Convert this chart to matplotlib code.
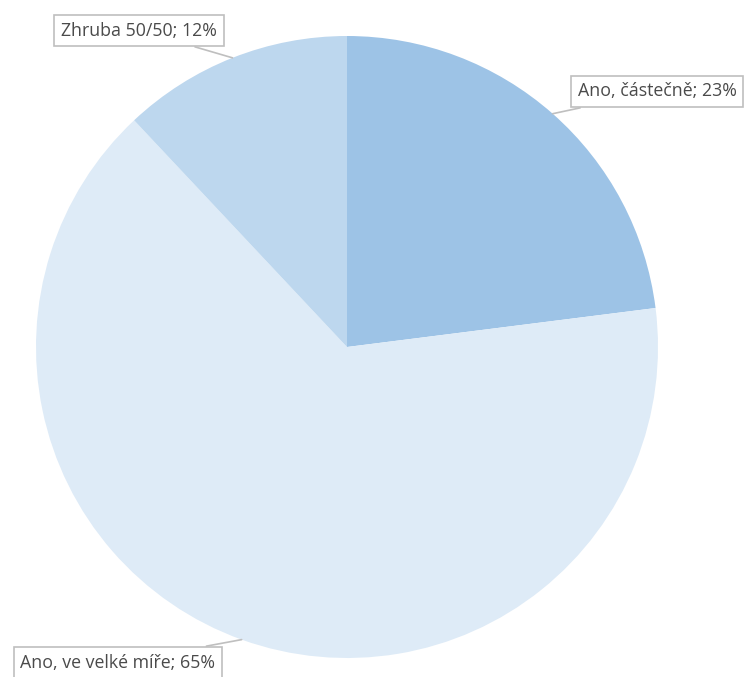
import numpy as np
import matplotlib.pyplot as plt

labels = ["Ano, částečně", "Ano, ve velké míře", "Zhruba 50/50"]
values = [23, 65, 12]
colors = ["#9DC3E6", "#DEEBF7", "#BDD7EE"]

W, H = 747, 677
fig = plt.figure(figsize=(W / 100, H / 100), dpi=100)
ax = fig.add_axes([0, 0, 1, 1])

# pie geometry in pixel units
cx, cy, r = 347, H - 347, 311
wedges, _ = ax.pie(values, colors=colors, startangle=90, counterclock=False,
                   center=(cx, cy), radius=r,
                   wedgeprops=dict(linewidth=0))
ax.set_xlim(0, W)
ax.set_ylim(0, H)
ax.set_aspect("equal")
ax.axis("off")

# label box centres (pixels from top-left)
label_pos = [(657, 91.5), (118, 662.5), (139, 30.5)]

for w, lab, v, (lx, ly) in zip(wedges, labels, values, label_pos):
    mid = np.deg2rad((w.theta1 + w.theta2) / 2)
    px, py = cx + r * np.cos(mid), cy + r * np.sin(mid)
    ax.annotate(f"{lab}; {v}%", xy=(px, py), xytext=(lx, H - ly),
                ha="center", va="center", fontsize=12.8, family="Open Sans",
                color="#4a4a4a",
                bbox=dict(boxstyle="square,pad=0.38", fc="white", ec="#BFBFBF", lw=1.2),
                arrowprops=dict(arrowstyle="-", color="#BFBFBF", lw=1.2,
                                shrinkA=0, shrinkB=0))

fig.savefig("out.png", dpi=100)
